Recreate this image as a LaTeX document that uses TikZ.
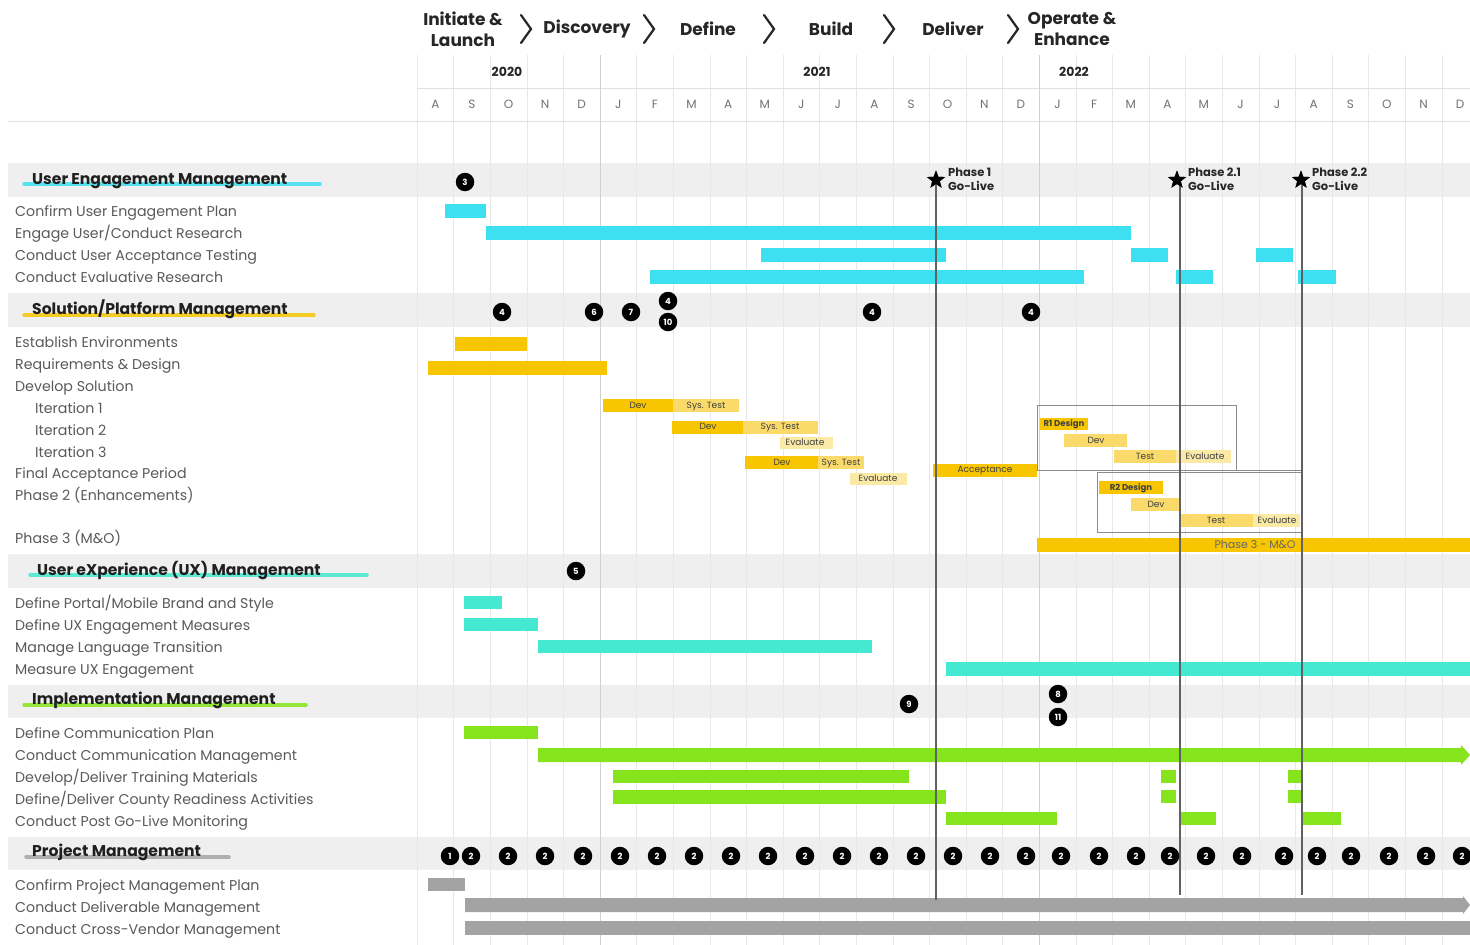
\documentclass[tikz,border=0pt]{standalone}
\usepackage{fontspec}
\setmainfont{Poppins}
\usetikzlibrary{shapes.geometric}
\definecolor{uecyan}{HTML}{3DE0F0}
\definecolor{spyel}{HTML}{F7C600}
\definecolor{spyell}{HTML}{F9DA6A}
\definecolor{spyelp}{HTML}{FBE9A6}
\definecolor{uxteal}{HTML}{45E8D0}
\definecolor{imgreen}{HTML}{86E41C}
\definecolor{pmgray}{HTML}{A3A3A3}
\definecolor{bandgray}{HTML}{EFEFEF}
\definecolor{tasktext}{HTML}{5A5A5A}
\newcommand{\gbar}[4]{\fill[#4] (#1,{#3-7}) rectangle (#2,{#3+7});}
\newcommand{\sbar}[4]{\fill[#4] (#1,{#3-6.5}) rectangle (#2,{#3+6.5});}
\begin{document}
\begin{tikzpicture}[x=1pt,y=-1pt,
  task/.style={anchor=west, inner sep=0, text height=11.5pt, text depth=0.5pt, text=tasktext, font=\fontsize{14.2}{15}\selectfont},
  head/.style={anchor=west, inner sep=0, text height=13.5pt, text depth=0.5pt, text=black!88, font=\fontsize{15.6}{16}\selectfont\bfseries},
  mnum/.style={circle, fill=black, text=white, minimum size=18.5, inner sep=0, font=\fontsize{8.5}{8.5}\selectfont\bfseries},
  phasehd/.style={align=center, inner sep=0, font=\fontsize{17}{21}\selectfont\bfseries, text=black!85},
  mon/.style={inner sep=0, text=black!55, font=\fontsize{12}{12}\selectfont},
  yr/.style={inner sep=0, text=black!85, font=\fontsize{12.5}{12.5}\selectfont\bfseries},
  small/.style={inner sep=0, text height=6.5pt, text depth=1pt, text=black!75, font=\fontsize{9}{9}\selectfont},
  msstar/.style={star, star points=5, star point ratio=2.4, fill=black, minimum size=19, inner sep=0},
  mslabel/.style={anchor=west, align=left, inner sep=0, text=black!85, font=\fontsize{11.5}{14}\selectfont\bfseries},
  chev/.style={line width=2.2pt, black!85, line cap=round, line join=miter},
  hilite/.style={line width=3.5pt, line cap=round, opacity=0.85},
  grid/.style={black!9, line width=0.6pt},
  msline/.style={black!62, line width=1.1pt}
]
\useasboundingbox (0,0) rectangle (1470,945);
\fill[white] (0,0) rectangle (1470,945);

% section bands
\foreach \ya/\yb in {163/197, 293/327, 554/588, 685/718, 837/870}
  \fill[bandgray] (8,\ya) rectangle (1470,\yb);

% month grid
\foreach \i in {0,...,29}
  \draw[grid] ({417+36.6*\i},55) -- ({417+36.6*\i},945);
\draw[black!12, line width=0.6pt] (417,88) -- (1470,88);
\draw[black!12, line width=0.6pt] (8,121) -- (1470,121);
\draw[black!18, line width=0.8pt] (600,55) -- (600,945);
\draw[black!18, line width=0.8pt] (1039,55) -- (1039,945);

% phase header
\node[phasehd] (ph1) at (463,29) {Initiate \&\\Launch};
\node[phasehd] (ph2) at (587,29) {Discovery};
\node[phasehd] (ph3) at (708,29) {Define};
\node[phasehd] (ph4) at (831,29) {Build};
\node[phasehd] (ph5) at (953,29) {Deliver};
\node[phasehd] (ph6) at (1072,29) {Operate \&\\Enhance};
\foreach \cx in {526,649,769,889,1013}
  \draw[chev] ({\cx-5},15) -- ({\cx+5},29) -- ({\cx-5},43);

% years and months
\node[yr] (y20) at (507,72) {2020};
\node[yr] (y21) at (817,72) {2021};
\node[yr] (y22) at (1074,72) {2022};
\foreach \m [count=\i from 0] in {A,S,O,N,D,J,F,M,A,M,J,J,A,S,O,N,D,J,F,M,A,M,J,J,A,S,O,N,D}
  \node[mon] (mo\i) at ({435.3+36.6*\i},104) {\m};

% heading highlight strokes
\draw[hilite, uecyan] (24,184) -- (320,184);
\draw[hilite, spyel] (24,315) -- (314,315);
\draw[hilite, uxteal] (30,575) -- (367,575);
\draw[hilite, imgreen] (24,705) -- (306,705);
\draw[hilite, pmgray] (26,857) -- (229,857);

% headings
\node[head] (hUE) at (32,178) {User Engagement Management};
\node[head] (hSP) at (32,308) {Solution/Platform Management};
\node[head] (hUX) at (37,569) {User eXperience (UX) Management};
\node[head] (hIM) at (32,698) {Implementation Management};
\node[head] (hPM) at (32,850) {Project Management};

% task labels
\node[task] (ue1) at (15,211) {Confirm User Engagement Plan};
\node[task] (ue2) at (15,233) {Engage User/Conduct Research};
\node[task] (ue3) at (15,255) {Conduct User Acceptance Testing};
\node[task] (ue4) at (15,277) {Conduct Evaluative Research};
\node[task] (sp1) at (15,342) {Establish Environments};
\node[task] (sp2) at (15,364) {Requirements \& Design};
\node[task] (sp3) at (15,386) {Develop Solution};
\node[task] (sp4) at (35,408) {Iteration 1};
\node[task] (sp5) at (35,430) {Iteration 2};
\node[task] (sp6) at (35,452) {Iteration 3};
\node[task] (sp7) at (15,473) {Final Acceptance Period};
\node[task] (sp8) at (15,495) {Phase 2 (Enhancements)};
\node[task] (sp9) at (15,538) {Phase 3 (M\&O)};
\node[task] (ux1) at (15,603) {Define Portal/Mobile Brand and Style};
\node[task] (ux2) at (15,625) {Define UX Engagement Measures};
\node[task] (ux3) at (15,647) {Manage Language Transition};
\node[task] (ux4) at (15,669) {Measure UX Engagement};
\node[task] (im1) at (15,733) {Define Communication Plan};
\node[task] (im2) at (15,755) {Conduct Communication Management};
\node[task] (im3) at (15,777) {Develop/Deliver Training Materials};
\node[task] (im4) at (15,799) {Define/Deliver County Readiness Activities};
\node[task] (im5) at (15,821) {Conduct Post Go-Live Monitoring};
\node[task] (pm1) at (15,885) {Confirm Project Management Plan};
\node[task] (pm2) at (15,907) {Conduct Deliverable Management};
\node[task] (pm3) at (15,929) {Conduct Cross-Vendor Management};

% user engagement bars
\gbar{445}{486}{211}{uecyan}
\gbar{486}{1131}{233}{uecyan}
\gbar{761}{946}{255}{uecyan}
\gbar{1131}{1168}{255}{uecyan}
\gbar{1256}{1293}{255}{uecyan}
\gbar{650}{1084}{277}{uecyan}
\gbar{1176}{1213}{277}{uecyan}
\gbar{1298}{1336}{277}{uecyan}

% solution / platform bars
\gbar{455}{527}{344}{spyel}
\gbar{428}{607}{368}{spyel}
\sbar{603}{673}{405.5}{spyel}
\sbar{673}{739}{405.5}{spyell}
\sbar{672}{743}{427}{spyel}
\sbar{743}{818}{427}{spyell}
\fill[spyelp] (780,437) rectangle (833,449);
\sbar{745}{818}{462.5}{spyel}
\sbar{818}{864}{462.5}{spyell}
\fill[spyelp] (850,473) rectangle (907,485);
\sbar{933}{1037}{470}{spyel}
\node[small] (i1d) at (638,405.5) {Dev};
\node[small] (i1t) at (706,405.5) {Sys. Test};
\node[small] (i2d) at (708,427) {Dev};
\node[small] (i2t) at (780,427) {Sys. Test};
\node[small] (i2e) at (805,443) {Evaluate};
\node[small] (i3d) at (782,462.5) {Dev};
\node[small] (i3t) at (841,462.5) {Sys. Test};
\node[small] (i3e) at (878,479) {Evaluate};
\node[small] (acc) at (985,470) {Acceptance};

% phase 2 release blocks
\fill[spyel] (1040,418) rectangle (1088,430);
\fill[spyell] (1064,434) rectangle (1127,447);
\fill[spyell] (1114,450) rectangle (1176,463);
\fill[spyelp] (1176,450) rectangle (1231,463);
\fill[spyel] (1099,481) rectangle (1163,494);
\fill[spyell] (1131,498) rectangle (1180,511);
\fill[spyell] (1180,514) rectangle (1253,527);
\fill[spyelp] (1253,514) rectangle (1300,527);
\node[small, font=\fontsize{8.5}{8.5}\selectfont\bfseries] (r1d) at (1064,424) {R1 Design};
\node[small] (r1v) at (1096,440.5) {Dev};
\node[small] (r1t) at (1145,456.5) {Test};
\node[small] (r1e) at (1205,456.5) {Evaluate};
\node[small, font=\fontsize{8.5}{8.5}\selectfont\bfseries] (r2d) at (1131,487.5) {R2 Design};
\node[small] (r2v) at (1156,504.5) {Dev};
\node[small] (r2t) at (1216,520.5) {Test};
\node[small] (r2e) at (1277,520.5) {Evaluate};
\draw[black!45, line width=0.9pt] (1037,405) rectangle (1236,470);
\draw[black!45, line width=0.9pt] (1236,470) -- (1302,470);
\draw[black!45, line width=0.9pt] (1097,472) rectangle (1302,532);

% phase 3
\gbar{1037}{1470}{545}{spyel}
\node[small, text height=8pt, text depth=1.5pt, font=\fontsize{11}{11}\selectfont, text=black!60] (p3) at (1255,545) {Phase 3 - M\&O};

% UX bars
\sbar{464}{502}{602}{uxteal}
\sbar{464}{538}{624}{uxteal}
\sbar{538}{872}{646}{uxteal}
\gbar{946}{1470}{669}{uxteal}

% implementation bars
\sbar{464}{538}{732}{imgreen}
\fill[imgreen] (538,748) -- (1461,748) -- (1461,745) -- (1470,755) -- (1461,765) -- (1461,762) -- (538,762) -- cycle;
\sbar{613}{909}{776}{imgreen}
\sbar{1161}{1176}{776}{imgreen}
\sbar{1288}{1303}{776}{imgreen}
\gbar{613}{946}{797}{imgreen}
\sbar{1161}{1176}{796}{imgreen}
\sbar{1288}{1303}{796}{imgreen}
\sbar{946}{1057}{818}{imgreen}
\sbar{1180}{1216}{818}{imgreen}
\sbar{1303}{1341}{818}{imgreen}

% project management bars
\sbar{428}{465}{884}{pmgray}
\fill[pmgray] (465,898) -- (1463,898) -- (1463,896) -- (1470,905) -- (1463,914) -- (1463,912) -- (465,912) -- cycle;
\gbar{465}{1470}{928}{pmgray}

% go-live milestones
\coordinate (gl1e) at (936,900);
\coordinate (gl2e) at (1180,895);
\coordinate (gl3e) at (1302,895);
\node[msstar] (gl1) at (936,180) {};
\node[msstar] (gl2) at (1177,180) {};
\node[msstar] (gl3) at (1301,180) {};
\draw[msline] (gl1.center) -- (gl1e);
\draw[msline] (gl2.center -| gl2e) -- (gl2e);
\draw[msline] (gl3.center -| gl3e) -- (gl3e);
\node[msstar] (gl1s) at (936,180) {};
\node[msstar] (gl2s) at (1177,180) {};
\node[msstar] (gl3s) at (1301,180) {};
\node[mslabel] (gl1t) at (948,179) {Phase 1\\Go-Live};
\node[mslabel] (gl2t) at (1188,179) {Phase 2.1\\Go-Live};
\node[mslabel] (gl3t) at (1312,179) {Phase 2.2\\Go-Live};

% deliverable markers
\node[mnum] (d3) at (465,182) {3};
\node[mnum] (d4a) at (502,312) {4};
\node[mnum] (d6) at (594,312) {6};
\node[mnum] (d7) at (631,312) {7};
\node[mnum] (d4b) at (668,301) {4};
\node[mnum] (d10) at (668,322) {10};
\node[mnum] (d4c) at (872,312) {4};
\node[mnum] (d4d) at (1031,312) {4};
\node[mnum] (d5) at (576,571) {5};
\node[mnum] (d9) at (909,704) {9};
\node[mnum] (d8) at (1058,694) {8};
\node[mnum] (d11) at (1058,717) {11};
\node[mnum] (d1) at (450,856) {1};
\foreach \px [count=\k] in {471,508,545,583,620,657,694,731,768,805,842,879,916,953,990,1026,1061,1099,1136,1170,1206,1242,1284,1317,1351,1389,1426,1462}
  \node[mnum] (d2n\k) at (\px,856) {2};
\end{tikzpicture}
\end{document}
